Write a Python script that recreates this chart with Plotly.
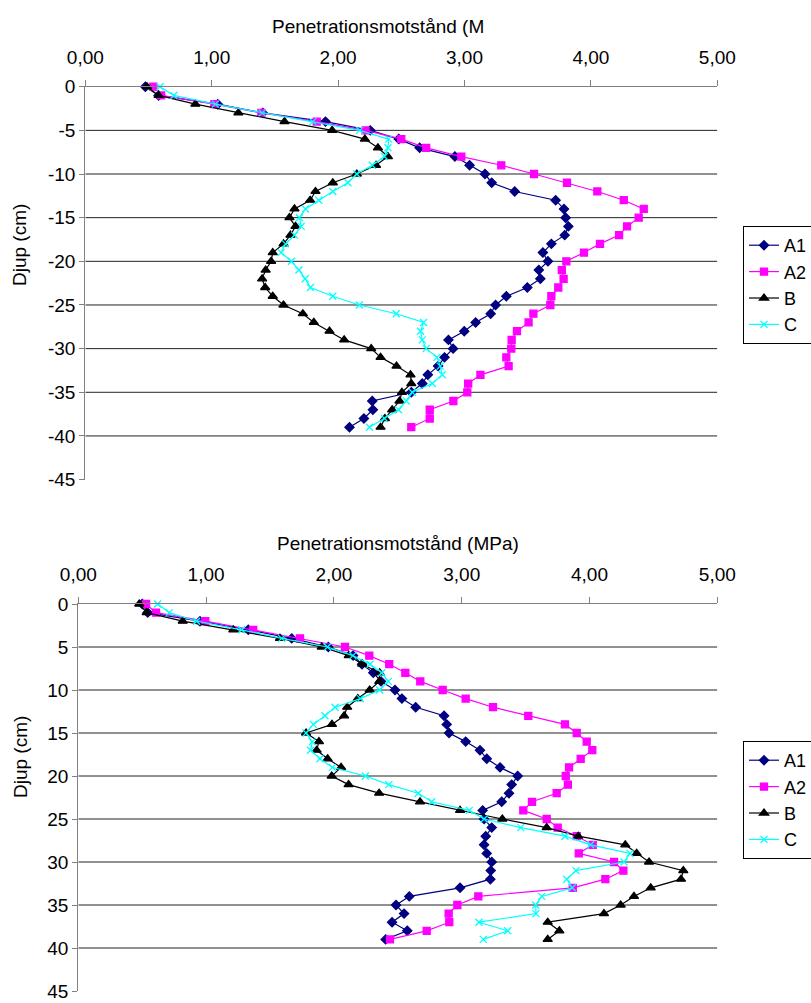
import plotly.graph_objects as go

# ---------------- data ----------------
depth_top = [0, -1, -2, -3, -4, -5, -6, -7, -8, -9, -10, -11, -12, -13, -14, -15, -16, -17, -18, -19,
             -20, -21, -22, -23, -24, -25, -26, -27, -28, -29, -30, -31, -32, -33, -34, -35, -36, -37, -38, -39]
depth_bot = [0, 1, 2, 3, 4, 5, 6, 7, 8, 9, 10, 11, 12, 13, 14, 15, 16, 17, 18, 19,
             20, 21, 22, 23, 24, 25, 26, 27, 28, 29, 30, 31, 32, 33, 34, 35, 36, 37, 38, 39]

A1_top = [0.475, 0.58, 1.048, 1.404, 1.90, 2.254, 2.48, 2.645, 2.924, 3.04, 3.162, 3.215, 3.397, 3.721,
          3.787, 3.80, 3.822, 3.793, 3.687, 3.62, 3.66, 3.588, 3.60, 3.497, 3.331, 3.246, 3.207, 3.088,
          2.998, 2.873, 2.91, 2.842, 2.791, 2.71, 2.666, 2.579, 2.27, 2.275, 2.204, 2.09]
A2_top = [0.538, 0.60, 1.021, 1.393, 1.831, 2.217, 2.50, 2.697, 2.975, 3.291, 3.55, 3.811, 4.051, 4.26,
          4.418, 4.378, 4.286, 4.223, 4.072, 3.945, 3.806, 3.77, 3.784, 3.742, 3.687, 3.679, 3.545, 3.507,
          3.415, 3.373, 3.37, 3.331, 3.349, 3.126, 3.029, 3.022, 2.912, 2.725, 2.725, 2.579]
B_top = [0.488, 0.58, 0.871, 1.211, 1.576, 1.953, 2.212, 2.315, 2.394, 2.30, 2.148, 1.958, 1.821, 1.779,
         1.655, 1.615, 1.663, 1.623, 1.568, 1.483, 1.47, 1.427, 1.399, 1.423, 1.483, 1.568, 1.721, 1.808,
         1.932, 2.048, 2.262, 2.336, 2.462, 2.573, 2.579, 2.505, 2.486, 2.428, 2.37, 2.336]
C_top = [0.591, 0.70, 1.029, 1.399, 1.80, 2.17, 2.40, 2.394, 2.367, 2.27, 2.148, 2.077, 1.958, 1.847,
         1.742, 1.694, 1.708, 1.655, 1.584, 1.549, 1.631, 1.69, 1.74, 1.781, 1.958, 2.169, 2.46, 2.676,
         2.652, 2.666, 2.697, 2.782, 2.808, 2.824, 2.745, 2.587, 2.539, 2.478, 2.367, 2.249]

A1_bot = [0.50, 0.543, 0.952, 1.33, 1.67, 1.956, 2.15, 2.22, 2.308, 2.369, 2.478, 2.532, 2.64, 2.862,
          2.883, 2.901, 3.031, 3.143, 3.196, 3.30, 3.438, 3.391, 3.37, 3.313, 3.164, 3.175, 3.235, 3.188,
          3.175, 3.196, 3.235, 3.227, 3.224, 2.987, 2.59, 2.486, 2.549, 2.455, 2.574, 2.405]
A2_bot = [0.53, 0.608, 0.994, 1.369, 1.735, 2.087, 2.277, 2.433, 2.559, 2.676, 2.851, 3.031, 3.245, 3.521,
          3.808, 3.90, 3.978, 4.022, 3.931, 3.84, 3.814, 3.831, 3.743, 3.55, 3.482, 3.665, 3.751, 3.90,
          4.025, 3.916, 4.192, 4.265, 4.124, 3.869, 3.13, 2.966, 2.898, 2.903, 2.726, 2.439]
B_bot = [0.477, 0.535, 0.817, 1.213, 1.578, 1.905, 2.116, 2.222, 2.358, 2.355, 2.28, 2.187, 2.104, 2.08,
         1.985, 1.782, 1.883, 1.865, 1.951, 2.056, 1.983, 2.115, 2.354, 2.674, 2.987, 3.318, 3.665, 3.912,
         4.28, 4.369, 4.466, 4.734, 4.716, 4.479, 4.348, 4.244, 4.113, 3.673, 3.764, 3.673]
C_bot = [0.621, 0.712, 0.926, 1.278, 1.591, 1.95, 2.148, 2.283, 2.374, 2.426, 2.358, 2.207, 2.009, 1.93,
         1.839, 1.782, 1.831, 1.818, 1.891, 1.988, 2.246, 2.43, 2.66, 2.765, 3.059, 3.175, 3.462, 3.808,
         4.009, 4.317, 4.27, 3.894, 3.822, 3.865, 3.626, 3.579, 3.581, 3.135, 3.36, 3.169]

x_tick_vals = [0, 1, 2, 3, 4, 5]
x_tick_text = ["0,00", "1,00", "2,00", "3,00", "4,00", "5,00"]
y_ticks_top = [0, -5, -10, -15, -20, -25, -30, -35, -40, -45]
y_ticks_bot = [0, 5, 10, 15, 20, 25, 30, 35, 40, 45]
grid_top = [-5, -10, -15, -20, -25, -30, -35, -40]
grid_bot = [5, 10, 15, 20, 25, 30, 35, 40]

series_names = ["A1", "A2", "B", "C"]
title_top = "Penetrationsmotstånd (M"
title_bot = "Penetrationsmotstånd (MPa)"
y_title = "Djup (cm)"

# ---------------- styling ----------------
FONT = "Liberation Sans, Arial, sans-serif"
FS = 19
LFS = 18
W, H = 811, 1003

styles = {
    "A1": dict(color="#000080", symbol="diamond", size=7),
    "A2": dict(color="#FF00FF", symbol="square", size=7),
    "B": dict(color="#000000", symbol="triangle-up", size=8),
    "C": dict(color="#00FFFF", symbol="x-thin", size=7),
}

fig = go.Figure()

top_data = [A1_top, A2_top, B_top, C_top]
bot_data = [A1_bot, A2_bot, B_bot, C_bot]

for name, vals in zip(series_names, top_data):
    st = styles[name]
    fig.add_trace(go.Scatter(
        x=vals, y=depth_top, mode="lines+markers", name=name,
        xaxis="x", yaxis="y", legend="legend", legendgroup="t" + name,
        line=dict(color=st["color"], width=1.2),
        marker=dict(symbol=st["symbol"], size=st["size"], color=st["color"],
                    line=dict(color=st["color"], width=1.3)),
        cliponaxis=False,
    ))

for name, vals in zip(series_names, bot_data):
    st = styles[name]
    fig.add_trace(go.Scatter(
        x=vals, y=depth_bot, mode="lines+markers", name=name,
        xaxis="x2", yaxis="y2", legend="legend2", legendgroup="b" + name,
        line=dict(color=st["color"], width=1.2),
        marker=dict(symbol=st["symbol"], size=st["size"], color=st["color"],
                    line=dict(color=st["color"], width=1.3)),
        cliponaxis=False,
    ))

# gridlines
shapes = []
for g in grid_top:
    shapes.append(dict(type="line", xref="x", yref="y", x0=0, x1=5, y0=g, y1=g,
                       line=dict(color="#222222", width=1), layer="below"))
for g in grid_bot:
    shapes.append(dict(type="line", xref="x2", yref="y2", x0=0, x1=5, y0=g, y1=g,
                       line=dict(color="#222222", width=1), layer="below"))

def py(px):
    return 1 - px / H

def pxx(px):
    return px / W

axis_common = dict(
    showgrid=False, zeroline=False, showline=True, linecolor="#808080", linewidth=1.3,
    ticks="outside", tickcolor="#808080", automargin=False,
    tickfont=dict(family=FONT, size=FS, color="black"),
)

fig.update_layout(
    width=W, height=H,
    margin=dict(l=0, r=0, t=0, b=0, autoexpand=False),
    paper_bgcolor="white", plot_bgcolor="white",
    font=dict(family=FONT, size=FS, color="black"),
    shapes=shapes,
    xaxis=dict(domain=[pxx(85.3), pxx(717.3)], range=[0, 5], side="top", anchor="y",
               tickvals=x_tick_vals, ticktext=x_tick_text, ticklen=6, ticklabelstandoff=8,
               **axis_common),
    yaxis=dict(domain=[py(479.6), py(86.7)], range=[-45, 0], anchor="x",
               tickvals=y_ticks_top, ticktext=[str(v) for v in y_ticks_top], ticklen=5,
               **axis_common),
    xaxis2=dict(domain=[pxx(78.3), pxx(717.3)], range=[0, 5], side="top", anchor="y2",
                tickvals=x_tick_vals, ticktext=x_tick_text, ticklen=6, ticklabelstandoff=8,
                **axis_common),
    yaxis2=dict(domain=[py(991), py(604)], range=[45, 0], anchor="x2",
                tickvals=y_ticks_bot, ticktext=[str(v) for v in y_ticks_bot], ticklen=5,
                ticklabeloverflow="allow", **axis_common),
    legend=dict(x=pxx(743), y=py(226), xanchor="left", yanchor="top",
                bordercolor="black", borderwidth=1, bgcolor="white",
                font=dict(family=FONT, size=LFS), itemwidth=30, tracegroupgap=0,
                traceorder="grouped"),
    legend2=dict(x=pxx(743), y=py(741), xanchor="left", yanchor="top",
                 bordercolor="black", borderwidth=1, bgcolor="white",
                 font=dict(family=FONT, size=LFS), itemwidth=30, tracegroupgap=0,
                 traceorder="grouped"),
    annotations=[
        dict(text=title_top, xref="paper", yref="paper", x=pxx(270), y=py(27),
             xanchor="left", yanchor="middle", showarrow=False, font=dict(size=FS)),
        dict(text=title_bot, xref="paper", yref="paper", x=pxx(398), y=py(543),
             xanchor="center", yanchor="middle", showarrow=False, font=dict(size=FS)),
        dict(text=y_title, xref="paper", yref="paper", x=pxx(20), y=py(245),
             xanchor="center", yanchor="middle", showarrow=False, textangle=-90, font=dict(size=FS)),
        dict(text=y_title, xref="paper", yref="paper", x=pxx(20), y=py(757),
             xanchor="center", yanchor="middle", showarrow=False, textangle=-90, font=dict(size=FS)),
    ],
)

fig.write_html("out.html")
